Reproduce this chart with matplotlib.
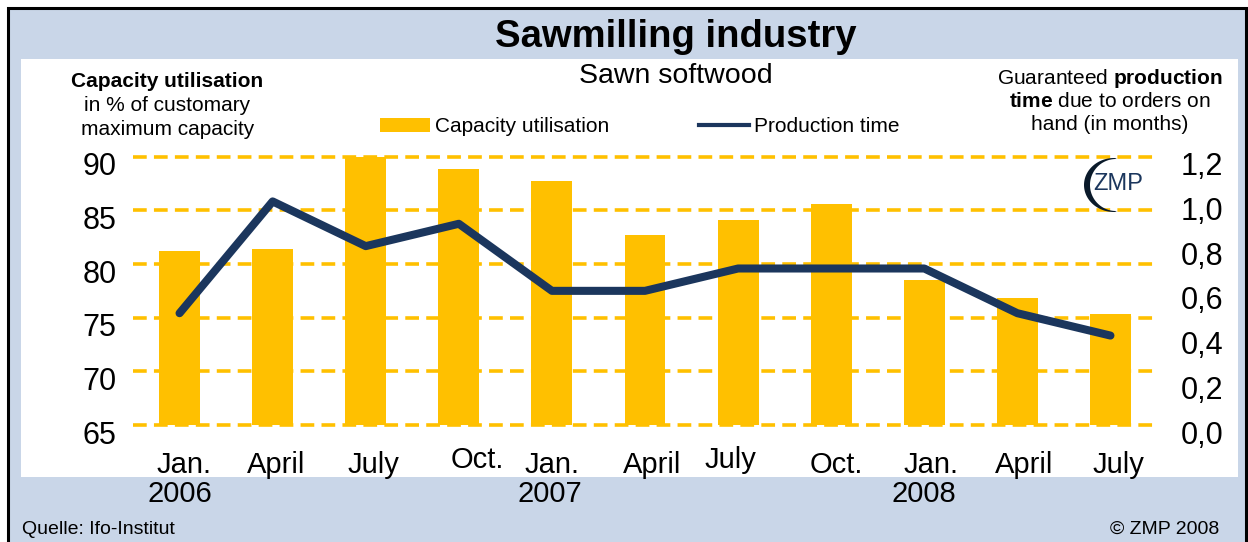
import numpy as np
import matplotlib
matplotlib.use("Agg")
import matplotlib.pyplot as plt
from matplotlib.patches import Rectangle, Polygon, Patch
from matplotlib.lines import Line2D
from matplotlib.transforms import ScaledTranslation

plt.rcParams['font.family'] = ['Liberation Sans', 'DejaVu Sans']
plt.rcParams['mathtext.fontset'] = 'custom'
plt.rcParams['mathtext.rm'] = 'Liberation Sans'
plt.rcParams['mathtext.bf'] = 'Liberation Sans:bold'

# ---------------- data ----------------
months = ["Jan.", "April", "July", "Oct.", "Jan.", "April", "July", "Oct.", "Jan.", "April", "July"]
years = ["2006", "2007", "2008"]
capacity = [81.2, 81.4, 90.0, 88.9, 87.7, 82.7, 84.1, 85.6, 78.5, 76.8, 75.3]
prod_time = [0.5, 1.0, 0.8, 0.9, 0.6, 0.6, 0.7, 0.7, 0.7, 0.5, 0.4]
left_ticks = [65, 70, 75, 80, 85, 90]
right_ticks = [0.0, 0.2, 0.4, 0.6, 0.8, 1.0, 1.2]
right_ticklabels = ["0,0", "0,2", "0,4", "0,6", "0,8", "1,0", "1,2"]

# ---------------- style ----------------
YELLOW = "#FFC000"
NAVY = "#1B365D"
BLUE_BG = "#C9D6E8"

W, H = 1248, 542
fig = plt.figure(figsize=(W / 100, H / 100), dpi=100)
fig.patch.set_facecolor("white")


def fx(px):
    return px / W


def fy(py):
    return 1 - py / H


# outer frame + white panel
fig.patches.append(Rectangle((fx(7.5), fy(548)), fx(1246) - fx(7.5), fy(7.5) - fy(548),
                             transform=fig.transFigure, facecolor=BLUE_BG,
                             edgecolor="black", lw=2.2, zorder=-2))
fig.patches.append(Rectangle((fx(21), fy(477)), fx(1238) - fx(21), fy(59) - fy(477),
                             transform=fig.transFigure, facecolor="white",
                             edgecolor="none", zorder=-1))

# ---------------- axes ----------------
ax = fig.add_axes([fx(133), fy(425), fx(1157) - fx(133), fy(156.7) - fy(425)])
ax.set_facecolor("none")
x = np.arange(len(capacity))
ax.bar(x, capacity, width=0.44, color=YELLOW, zorder=2)
ax.set_xlim(-0.5, len(capacity) - 0.5)
ax.set_ylim(65, 90)
ax.set_yticks(left_ticks)
ax.set_xticks([])
for s in ax.spines.values():
    s.set_visible(False)
ax.set_axisbelow(True)
ax.yaxis.grid(True, color=YELLOW, lw=2.6, linestyle=(0, (3.8, 2.0)))
for gl in ax.get_ygridlines():
    gl.set_clip_on(False)
ax.tick_params(axis="y", length=0, pad=12, labelsize=22)

ax2 = ax.twinx()
ax2.set_facecolor("none")
ax2.plot(x, prod_time, color=NAVY, lw=5.8, solid_capstyle="round",
         solid_joinstyle="round", zorder=3)
ax2.set_ylim(0, 1.2)
ax2.set_yticks(right_ticks)
ax2.set_yticklabels(right_ticklabels)
for s in ax2.spines.values():
    s.set_visible(False)
ax2.tick_params(axis="y", length=0, pad=17, labelsize=22)

shift = ScaledTranslation(0, -7 / 100, fig.dpi_scale_trans)
for lab in ax.get_yticklabels() + ax2.get_yticklabels():
    lab.set_transform(lab.get_transform() + shift)

# month labels (small individual offsets as in the original)
dx = [4, 3.5, 8, 18, 0.5, 7.5, -7.5, 5, 6.5, 7, 8]
dy = [-48, -48, -48, -43, -48, -48, -43, -48, -48, -48, -48]
for i, m in enumerate(months):
    ax.annotate(m, xy=(i, 0), xycoords=ax.get_xaxis_transform(),
                xytext=(dx[i], dy[i]), textcoords="offset pixels",
                ha="center", va="baseline", fontsize=21, annotation_clip=False)

year_x = [179.5, 550, 923.5]
for yx, yr in zip(year_x, years):
    fig.text(fx(yx), fy(501.7), yr, ha="center", va="baseline", fontsize=21)

# ---------------- titles & labels ----------------
fig.text(fx(676), fy(47), "Sawmilling industry", ha="center", va="baseline",
         fontsize=27.5, fontweight="bold")
fig.text(fx(676), fy(83), "Sawn softwood", ha="center", va="baseline", fontsize=20.5)

fig.text(fx(167.5), fy(87), "Capacity utilisation", ha="center", va="baseline",
         fontsize=15, fontweight="bold")
fig.text(fx(167.5), fy(111), "in % of customary", ha="center", va="baseline", fontsize=15)
fig.text(fx(167.5), fy(135), "maximum capacity", ha="center", va="baseline", fontsize=15)

fig.text(fx(1110), fy(84), r"Guaranteed $\mathbf{production}$", ha="center",
         va="baseline", fontsize=15)
fig.text(fx(1110), fy(107), r"$\mathbf{time}$ due to orders on", ha="center",
         va="baseline", fontsize=15)
fig.text(fx(1110), fy(130), "hand (in months)", ha="center", va="baseline", fontsize=15)

# legend
handles = [Patch(facecolor=YELLOW, edgecolor="none"),
           Line2D([], [], color=NAVY, lw=3)]
fig.legend(handles, ["Capacity utilisation", "Production time"], loc="center",
           bbox_to_anchor=(fx(640), fy(127)), ncol=2, frameon=False, fontsize=15,
           handlelength=2.4, handleheight=0.65, handletextpad=0.25,
           columnspacing=4.3, borderpad=0, borderaxespad=0)

# source / copyright
fig.text(fx(22), fy(534), "Quelle: Ifo-Institut", ha="left", va="baseline", fontsize=14)
fig.text(fx(1219), fy(534), "© ZMP 2008", ha="right", va="baseline", fontsize=14)

# ZMP logo
t = np.deg2rad(np.linspace(88, 272, 80))
outer = np.column_stack([1114 + 30 * np.cos(t), 185 - 27 * np.sin(t)])
inner = np.column_stack([1116 + 26 * np.cos(t[::-1]), 185 - 26 * np.sin(t[::-1])])
pts = np.vstack([outer, inner])
pts_fig = np.column_stack([fx(pts[:, 0]), fy(pts[:, 1])])
fig.patches.append(Polygon(pts_fig, closed=True, transform=fig.transFigure,
                           facecolor="#0A1A2A", edgecolor="none", zorder=5))
fig.text(fx(1118), fy(184), "ZMP", ha="center", va="center", fontsize=17,
         color=NAVY, zorder=6)

fig.savefig("out.png", dpi=100)
